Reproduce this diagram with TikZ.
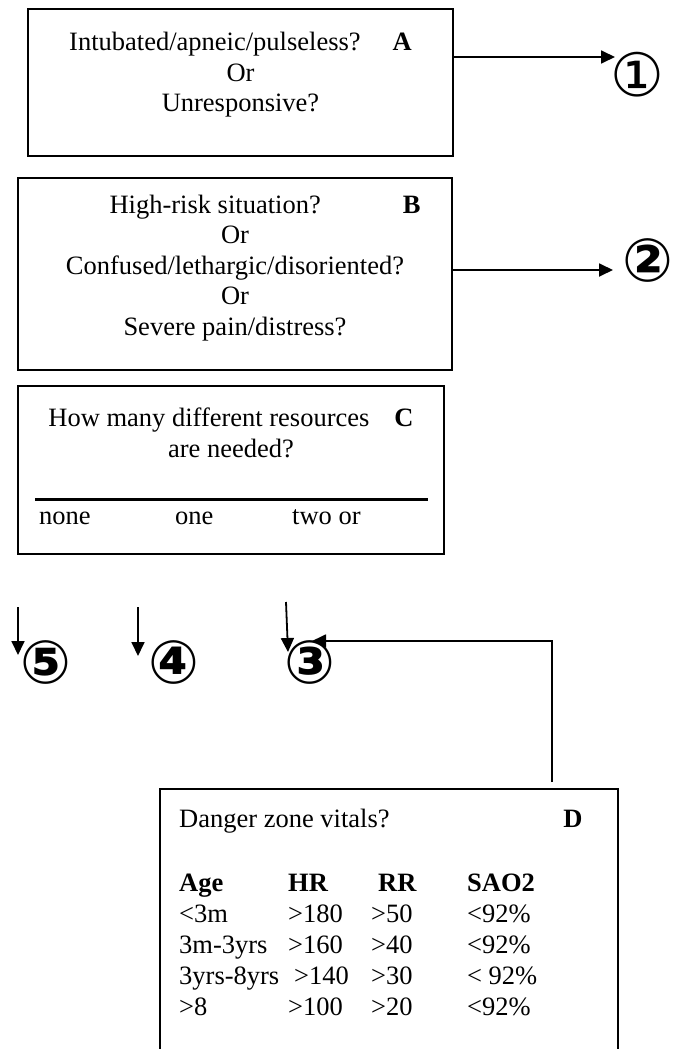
\documentclass[tikz,border=0pt]{standalone}
\usepackage{fontspec}
\setmainfont{Liberation Serif}
\newfontfamily\circfont{DejaVu Sans}
\usepackage{tikz}
\usetikzlibrary{arrows.meta,calc}

\begin{document}
\begin{tikzpicture}[
  x=1pt, y=-1pt,
  qbox/.style={draw, line width=1.8pt, inner sep=0pt},
  qtext/.style={align=center, inner sep=0pt, font=\fontsize{26.5}{30.5}\selectfont},
  plain/.style={inner sep=0pt, font=\fontsize{26.5}{31}\selectfont},
  num/.style={inner sep=0pt, font=\circfont\fontsize{60}{60}\selectfont},
  numb/.style={inner sep=0pt, font=\circfont\bfseries\fontsize{60}{60}\selectfont},
  arrow/.style={-{Triangle[length=14pt,width=13pt]}, line width=1.8pt}
]
  \useasboundingbox (0,0) rectangle (685,1049);
  \fill[white] (0,0) rectangle (685,1049);

  \node[qbox, minimum width=425pt, minimum height=147pt] (boxA) at (240.5,82.5) {};
  \node[qtext] (txtA) at (240.5,75) {Intubated/apneic/pulseless?\hspace{32pt}\textbf{A}\\Or\\Unresponsive?};

  \node[qbox, minimum width=434pt, minimum height=192pt] (boxB) at (235,274) {};
  \node[qtext] (txtB) at (235,268) {\hspace*{60pt}High-risk situation?\hspace{82pt}\textbf{B}\\Or\\Confused/lethargic/disoriented?\\Or\\Severe pain/distress?};

  \node[qbox, minimum width=426pt, minimum height=168pt] (boxC) at (231,470) {};
  \node[qtext] (txtC) at (231,433) {How many different resources\hspace{25pt}\textbf{C}\\are needed?};
  \draw[line width=3pt] (35,499) -- (428,499);
  \node[plain, anchor=base west] (none) at (39,524) {none};
  \node[plain, anchor=base west] (one) at (175,524) {one};
  \node[plain, anchor=base west] (twoor) at (292,524) {two or};

  \node[num] (n1) at (637,75) {①};
  \node[numb] (n2) at (648,260) {②};
  \node[numb] (n5) at (46,662) {⑤};
  \node[numb] (n4) at (174,662) {④};
  \node[numb] (n3) at (310,662) {③};

  \node[qbox, minimum width=458pt, minimum height=340pt, anchor=north west] (boxD) at (159,788) {};
  \node[plain, anchor=base west] (dtitle) at (179,827) {Danger zone vitals?};
  \node[plain, anchor=base] (labD) at (573,827) {\textbf{D}};
  \node[plain, anchor=base west] (vitals) at (179,891) {%
    \begin{tabular}[t]{@{}p{109pt}@{}p{83pt}@{}p{96pt}@{}l@{}}
      \textbf{Age} & \textbf{HR} & \hspace{7pt}\textbf{RR} & \textbf{SAO2}\\
      <3m & >180 & >50 & <92\%\\
      3m-3yrs & >160 & >40 & <92\%\\
      3yrs-8yrs & \hspace{6pt}>140 & >30 & < 92\%\\
      >8 & >100 & >20 & <92\%\\
    \end{tabular}};

  \coordinate (s5) at (18,607);
  \coordinate (s4) at (138,607);
  \coordinate (s3) at (286,602);

  \draw[arrow] ($(boxA.east)+(0,-25.5)$) -- ($(n1)+(-22,-18)$);
  \draw[arrow] ($(boxB.east)+(0,-4)$) -- ($(n2)+(-35,10)$);
  \draw[arrow] (s5) -- ($(s5 |- n5)+(0,-7)$);
  \draw[arrow] (s4) -- ($(s4 |- n4)+(0,-6)$);
  \draw[arrow] (s3) -- ($(s3 |- n3)+(2,-10)$);
  \draw[arrow] ($(boxD.north east)+(-67,-6)$) |- ($(n3)+(2,-21)$);
\end{tikzpicture}
\end{document}
